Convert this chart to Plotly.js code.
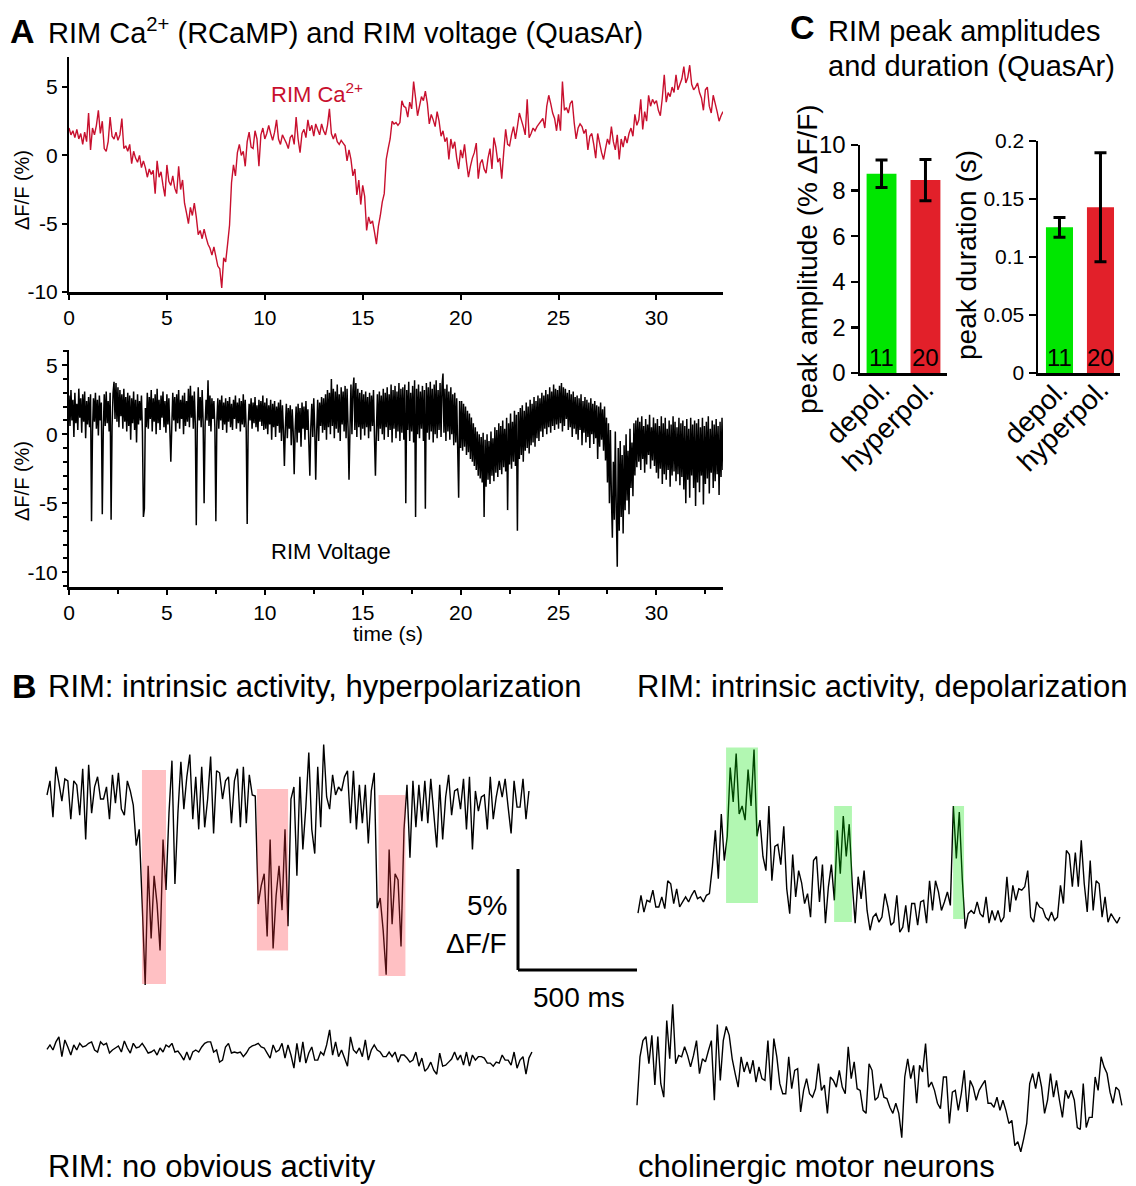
<!DOCTYPE html>
<html><head><meta charset="utf-8">
<script src="https://cdn.plot.ly/plotly-3.0.1.min.js"></script>
<style>html,body{margin:0;padding:0;background:#fff}#chart{width:1136px;height:1186px}</style>
</head><body><div id="chart"></div>
<script>
// ---------------- DATA ----------------
// Panel A: RIM Ca2+ (RCaMP), sampled every caDt seconds
const caDt = 0.1;
const caValues = [
2.0,1.5,1.8,1.3,1.9,1.2,1.6,0.8,1.7,1.0,
3.1,0.4,2.0,1.5,2.2,3.3,1.6,2.5,0.5,0.3,
1.0,2.8,1.4,1.2,1.7,1.1,1.5,2.7,0.5,0.7,
0.3,0.8,-0.6,0.3,-0.2,-0.5,0.0,-0.9,-0.4,-0.9,
-1.6,-1.0,-1.4,-1.1,-2.8,-0.4,-1.6,-1.2,-2.2,-3.0,
-0.7,-1.9,-2.2,-1.5,-2.4,-2.8,-0.8,-2.5,-1.8,-3.5,
-4.2,-5.0,-3.8,-4.4,-3.5,-4.5,-5.8,-5.5,-6.1,-5.4,
-6.0,-6.5,-6.8,-7.3,-6.7,-7.4,-8.1,-8.3,-9.7,-7.5,
-7.8,-6.5,-5.1,-2.0,-0.7,-1.5,0.2,0.8,0.0,0.3,
-0.8,1.0,1.7,0.6,0.5,1.8,1.2,-0.8,1.5,2.0,
1.2,1.6,2.2,1.6,1.1,1.7,2.6,1.2,0.8,1.5,
1.2,0.9,0.5,1.3,1.5,0.8,2.8,1.2,0.2,1.6,
1.9,1.3,2.6,1.8,2.2,1.4,2.3,1.9,1.5,2.3,
1.8,1.5,2.2,3.4,1.6,1.2,1.6,1.0,0.8,1.1,
0.9,0.7,-0.4,0.4,-0.3,-1.5,-1.0,-2.9,-1.8,-3.6,
-2.2,-3.0,-5.5,-4.5,-5.0,-4.8,-5.6,-6.5,-5.2,-4.4,
-3.4,-2.8,-0.3,0.5,1.2,2.5,2.3,2.4,2.2,2.4,
4.0,3.6,3.5,2.8,3.9,3.4,5.4,4.2,2.9,3.6,
4.3,4.0,4.7,3.8,2.3,3.0,2.6,2.1,3.2,2.5,
1.4,1.8,1.0,1.3,-0.3,1.2,0.5,1.0,-0.2,-1.0,
0.4,-0.2,0.8,-0.5,-1.6,-0.8,-0.2,0.2,0.9,-1.7,
-0.6,-0.3,-1.0,-1.3,-0.2,0.5,-1.0,1.3,0.6,-0.5,
-0.2,-1.7,0.2,1.9,0.8,0.7,1.5,2.1,1.2,2.1,
3.1,2.6,2.1,1.5,4.1,1.3,1.6,2.0,1.8,2.1,
2.3,2.5,2.7,2.0,3.6,4.4,3.8,3.1,2.7,1.8,
3.0,1.8,5.4,3.3,3.5,3.1,3.8,4.0,2.4,1.2,
2.0,2.3,2.1,1.6,1.9,0.4,1.4,1.6,0.8,-0.2,
1.6,0.9,0.2,-0.3,0.5,1.2,0.8,2.1,1.0,0.4,
1.5,-0.3,1.2,0.6,1.4,0.9,1.6,2.0,1.4,3.0,
2.2,2.6,4.1,1.9,3.2,2.5,4.4,3.6,4.1,3.8,
4.0,3.3,2.9,4.2,5.9,3.9,4.6,4.3,5.0,4.6,
5.9,4.8,5.2,5.6,6.5,5.3,5.7,6.6,5.2,4.8,
5.0,5.3,4.6,4.2,3.3,4.8,5.0,3.6,3.1,4.4,
3.8,3.2,2.5,2.9,3.2];

// Panel A: RIM voltage (QuasAr), sampled every vDt seconds
const vDt = 0.05;
const voltValues = [
2.8,0.6,3.2,1.0,2.5,-0.2,3.0,0.8,2.2,0.3,3.3,1.2,2.6,0.1,2.9,0.9,3.1,-0.3,2.4,0.7,
2.7,0.5,2.9,-6.3,0.2,2.6,0.9,3.0,0.4,2.5,-0.1,2.8,1.0,2.3,-5.8,0.3,2.9,0.6,3.1,0.8,
2.4,0.2,3.0,-6.2,0.6,3.0,3.8,1.1,3.7,0.9,3.4,0.5,3.2,1.3,2.9,0.4,3.3,0.9,2.7,0.2,
3.0,0.6,2.8,-0.4,2.6,0.8,3.1,0.3,2.5,-0.6,2.9,0.7,2.4,1.0,2.8,0.2,-6.0,-5.4,1.9,0.5,
3.0,0.4,2.7,1.1,3.2,0.2,2.6,0.9,2.9,0.0,3.3,0.8,2.5,0.3,2.8,1.2,3.1,0.5,2.4,0.1,
2.9,0.7,2.6,0.3,-2.0,0.6,3.0,1.0,2.7,0.2,2.9,0.8,3.2,0.4,2.5,1.1,2.8,0.0,3.0,0.6,
2.4,0.9,3.3,0.5,3.5,1.2,2.8,0.4,3.1,0.8,-6.6,0.3,3.4,1.0,2.7,0.5,3.2,0.9,-5.0,0.6,
2.5,1.0,3.9,0.6,2.8,0.2,2.6,1.1,2.4,0.5,-6.3,0.9,2.6,0.4,2.5,1.0,2.8,0.3,2.3,0.7,
2.6,0.1,2.4,0.9,2.7,0.5,2.2,0.3,2.5,1.1,2.8,0.4,2.3,0.8,2.6,0.2,2.4,0.7,2.9,0.5,
2.5,0.3,-6.5,0.6,2.2,1.0,2.6,0.4,2.3,0.8,2.7,0.5,2.1,0.2,2.5,0.9,2.4,0.6,2.8,0.3,
2.3,0.4,2.6,0.0,2.1,0.7,2.5,-0.4,2.2,0.5,2.4,-0.2,2.0,0.6,2.3,0.1,2.5,-0.5,2.1,0.3,
-2.3,0.5,2.2,-0.3,1.9,0.4,2.1,-0.8,1.8,0.2,-2.9,0.3,2.0,-0.6,2.2,0.1,1.9,-0.9,2.3,0.4,
2.0,-0.4,2.4,0.3,1.8,-0.7,-3.0,0.5,2.2,-0.2,2.6,0.4,-3.3,0.2,2.5,-0.5,2.3,0.6,2.7,0.1,
2.6,0.3,2.9,-0.4,3.2,0.5,3.0,0.0,4.0,0.6,3.3,-0.3,3.1,0.4,3.6,0.1,2.9,-0.5,3.4,0.7,
3.1,0.2,3.5,-0.3,3.3,0.6,-3.3,0.4,3.6,0.0,3.2,4.1,0.3,3.7,-0.2,3.3,0.5,3.0,-0.4,3.2,
0.4,2.9,-0.1,3.1,0.5,2.7,-0.3,3.0,0.2,2.8,0.6,3.2,-0.2,-3.0,0.3,2.9,-0.5,3.1,0.4,2.8,
0.0,3.3,-0.4,3.0,0.5,3.4,-0.2,2.9,0.3,3.6,-0.6,3.2,0.4,3.5,-0.3,3.1,0.2,3.7,-0.5,3.3,
0.1,3.4,-0.4,3.6,-5.0,3.2,0.3,3.8,-0.5,3.0,0.2,3.5,-0.6,3.9,-6.0,3.3,0.0,3.6,-0.3,3.1,
0.4,3.5,-0.5,3.2,-5.4,3.7,0.1,3.4,-0.4,3.8,0.2,3.3,-0.6,3.6,0.0,3.9,-0.3,3.2,0.3,3.7,
-0.2,3.5,4.4,0.1,3.3,-0.5,3.6,0.2,3.1,-0.4,3.4,0.0,2.9,-0.8,3.0,-0.6,2.6,-1.0,-4.6,2.4,
-1.0,2.4,-1.2,2.2,-0.9,2.0,-1.5,1.7,-1.3,1.5,-1.8,1.2,-2.0,0.8,-2.3,0.5,-2.6,0.2,-3.0,0.0,
-3.2,-0.2,-3.5,0.1,-6.0,-0.4,-3.8,0.0,-3.3,-0.5,-3.6,0.2,-3.0,-0.3,-3.4,0.5,-2.8,0.3,-3.1,0.8,
-2.6,0.6,-2.9,1.0,-2.4,0.4,-2.7,1.2,-5.5,0.8,-2.2,1.5,-2.5,0.9,-2.0,1.7,-2.3,1.4,-7.0,1.6,
-1.8,1.9,-1.5,2.1,-2.0,1.7,-1.2,2.3,-1.0,2.0,-1.4,2.5,-0.8,2.2,-0.6,2.7,-0.9,2.4,-0.3,2.8,
-0.5,2.6,0.2,3.0,-0.2,2.8,0.4,3.2,0.0,2.9,0.5,3.4,0.1,3.1,0.6,3.6,0.3,3.3,0.7,3.2,
0.4,3.5,0.8,3.7,0.2,3.4,0.6,3.3,1.1,3.0,0.3,3.2,0.5,2.9,-0.2,3.1,0.4,2.7,0.0,2.8,
-0.4,2.6,0.3,2.9,-0.8,2.4,0.1,2.7,-0.6,2.5,-0.2,2.3,-1.0,2.6,0.0,2.2,-0.7,2.4,-0.3,2.1,
-1.8,2.0,-0.9,2.3,-0.4,1.8,-1.2,2.0,-1.9,1.2,-3.5,0.8,-5.0,0.3,-4.5,-7.5,-2.0,-6.2,0.2,-5.5,
-9.6,-1.0,-7.0,-0.5,-6.0,-1.5,-7.2,-0.8,-5.5,0.0,-4.8,-1.2,-5.8,0.4,-3.9,-0.6,-4.5,0.8,-3.0,1.0,
-2.4,1.2,-2.0,0.9,-2.6,1.3,-1.8,0.6,-2.8,1.1,-2.2,0.7,-1.5,1.4,-2.5,0.5,-1.9,1.2,-2.3,0.8,
-2.8,1.1,-3.2,0.6,-2.5,1.3,-3.6,0.8,-2.9,1.2,-3.3,0.4,-2.6,1.0,-3.8,0.7,-3.0,1.3,-2.7,0.9,
-3.4,0.5,-2.9,1.2,-3.7,0.8,-3.1,1.0,-4.0,0.6,-5.0,1.1,-3.3,0.4,-4.6,1.2,-3.0,0.7,-3.9,1.0,
-5.2,0.8,-3.5,1.1,-4.2,0.5,-3.0,1.2,-5.1,0.6,-3.6,0.9,-3.2,1.3,-4.3,0.4,-2.8,1.0,-3.9,0.7,
-3.4,1.1,-2.9,0.6,-4.4,0.9,-3.1,1.2,-2.6];

// Panel A tick labels
const aYTickVals = [-10, -5, 0, 5];
const aYTickText = ['-10', '-5', '0', '5'];

// Panel C: peak amplitudes and durations
const barCategories = ['depol.', 'hyperpol.'];
const ampMeans = [8.74, 8.46];
const ampErrors = [0.6, 0.9];
const durMeans = [0.1256, 0.1428];
const durErrors = [0.0085, 0.047];
const nCells = ['11', '20'];
const durTickVals = [0, 0.05, 0.1, 0.15, 0.2];
const durTickText = ['0', '0.05', '0.1', '0.15', '0.2'];

// Panel B: example traces, sampled every bDt ms, values in % dF/F
const bDt = 12.5;
const hyperTrace = [
0.0,0.7,-1.1,1.4,0.6,-0.3,0.8,0.7,-1.2,0.7,
0.5,-1.0,1.3,-2.2,1.5,-0.9,0.4,0.9,-0.2,-0.2,
0.4,-1.2,1.0,-0.4,1.1,-0.7,-1.0,0.7,0.2,-0.5,
-2.5,-1.7,-5.4,-9.4,-3.5,-7.1,-4.0,-5.4,-7.7,-2.2,
-4.7,-0.9,1.7,-4.4,-0.9,1.65,-0.7,0.9,2.0,-1.2,
0.9,-1.7,1.4,-1.6,-0.2,1.9,-1.9,1.2,1.1,-0.2,
0.7,0.9,-1.4,0.7,1.3,-1.6,1.4,-1.4,1.0,0.0,
-0.05,-5.4,-4.5,-3.9,-7.0,-2.2,-7.6,-5.0,-3.5,-5.7,
-1.7,-6.5,-0.2,0.4,-4.0,0.9,-2.7,-0.6,2.1,-1.7,
-2.9,1.4,-1.6,2.5,-0.1,-0.7,1.0,0.0,0.4,0.2,
0.9,1.2,-1.4,1.2,-1.7,0.5,-1.4,0.5,-2.4,0.2,
1.1,-5.6,-5.1,-6.7,-8.9,-2.7,-6.4,-3.9,-4.2,-7.5,
-1.7,0.5,-3.1,0.7,-1.6,0.5,-1.3,0.7,-1.4,0.8,
-0.9,-2.6,0.5,-2.2,-0.1,1.0,-1.0,0.2,0.3,-0.7,
0.8,-1.7,0.9,-2.7,0.2,-0.8,-0.1,0.0,-1.7,0.9,
-1.2,-0.1,0.7,-0.1,0.8,-0.6,-1.9,0.7,-0.6,-0.6,
0.8,-1.2,0.2];
const quietTrace = [
0.03,0.25,0.0,0.4,0.65,-0.33,0.5,0.15,-0.25,0.25,
0.0,0.33,0.15,0.2,0.33,0.4,0.0,-0.1,0.4,0.25,
0.33,-0.15,0.0,0.1,0.2,-0.1,0.45,0.1,-0.15,0.33,
0.1,0.15,0.33,0.1,-0.15,-0.1,0.0,-0.25,0.1,-0.1,
0.25,0.15,0.33,-0.1,-0.05,-0.25,-0.5,-0.1,-0.5,-0.1,
0.0,-0.1,0.15,0.33,0.4,0.4,-0.1,0.0,-0.6,-0.5,
0.15,0.33,-0.15,-0.1,-0.15,-0.1,-0.33,-0.15,0.1,0.2,
0.25,0.33,0.15,0.1,-0.15,-0.4,0.25,-0.1,0.0,0.33,
-0.4,0.25,-0.25,-0.9,0.33,-0.6,0.4,-0.65,-0.15,0.15,
-0.5,-0.5,-0.1,-0.25,0.25,1.0,-0.25,0.4,-0.33,0.0,
-0.4,-0.8,0.65,0.0,-0.15,0.1,-0.33,0.5,-0.5,0.0,
0.25,0.0,-0.1,-0.33,-0.33,-0.1,-0.33,-0.1,-0.6,-0.25,
-0.25,-0.4,-0.6,-0.5,-0.1,-0.8,-0.4,-1.05,-0.9,-0.6,
-1.0,-1.2,-0.15,-0.8,-0.75,-0.6,-0.45,-0.1,-0.5,-0.25,
-0.75,-0.1,-0.8,-0.25,-0.5,-0.33,-0.33,-0.4,-0.65,-0.65,
-0.8,-0.6,-0.65,-0.25,-0.5,-0.5,-0.75,-0.1,-0.9,-0.5,
-0.33,-1.2,-0.4,-0.1];
const depolTrace = [
-0.3,0.58,-0.25,0.33,0.25,0.83,0.0,0.0,0.5,-0.08,
1.3,1.15,0.17,0.9,0.0,0.25,0.5,0.25,0.58,0.83,
0.41,0.5,0.25,0.58,0.66,2.0,3.8,1.4,4.6,2.3,
3.5,6.9,5.2,7.6,4.6,5.0,4.3,6.8,5.0,7.8,
3.5,4.3,2.5,1.8,5.0,1.3,3.0,3.1,2.1,4.0,
0.9,-0.33,2.6,0.5,1.8,1.2,0.17,0.66,-0.5,2.3,
2.5,0.25,2.1,-0.8,1.0,2.1,0.33,3.8,1.65,4.5,
2.5,4.1,1.2,-0.8,1.5,0.4,1.8,-0.17,-1.15,-0.5,
-0.33,-0.75,-0.5,0.66,0.0,-0.9,-0.75,0.58,-1.25,-1.0,
0.08,-1.25,0.17,0.17,-0.9,0.25,0.33,-0.8,1.3,-0.17,
1.3,0.75,-0.17,0.25,0.75,0.08,5.0,2.4,4.7,1.4,
-1.07,-0.33,-0.17,-0.33,0.25,-0.33,-0.5,0.5,-0.8,-0.17,
-0.66,-0.17,-0.75,-0.5,1.5,-0.25,1.07,0.33,0.9,0.83,
1.0,1.8,-0.5,-0.75,0.25,0.0,-0.08,-0.5,-0.66,-0.25,
-0.66,-0.5,1.07,0.17,2.8,2.6,1.0,2.7,1.0,3.3,
1.15,-0.25,2.3,-0.17,1.3,1.15,-0.5,0.5,-0.75,-0.33,
-0.58,-0.8,-0.5];
const cholTrace = [
-1.4,1.0,1.8,2.0,0.66,2.06,-0.4,2.0,-0.33,-1.0,
2.8,0.9,3.6,0.66,1.07,1.0,1.5,1.07,0.5,1.07,
1.8,0.17,0.9,0.75,1.3,1.8,-1.15,2.6,-0.17,1.8,
2.5,2.06,0.9,0.17,-0.5,1.0,0.25,0.75,0.17,0.83,
-0.25,0.5,-0.08,-0.17,1.8,-0.66,1.9,1.0,-0.33,-0.83,
-0.83,1.0,-0.58,0.33,0.41,-1.73,-0.66,-0.08,-0.83,-1.0,
-0.58,0.66,-0.66,-0.4,-1.8,0.0,-0.17,-0.5,0.33,-0.5,
-0.83,1.5,-0.08,0.75,-0.58,-0.66,-1.65,-1.8,0.66,0.33,
-1.15,-1.0,-0.33,-1.0,-1.07,-1.5,-1.8,-1.3,-1.8,-3.0,
0.0,0.9,-0.08,0.58,-1.3,0.58,0.25,1.65,-0.5,-0.25,
-0.66,-1.3,-1.57,0.0,0.0,-2.3,-0.75,-0.66,-1.65,-0.83,
0.33,-1.73,-0.17,-0.5,-1.15,-0.66,-0.4,-0.17,-1.3,-1.3,
-1.5,-1.0,-1.65,-1.15,-1.65,-2.3,-2.15,-3.4,-3.2,-3.7,
-3.05,-2.3,-0.33,0.17,-0.58,0.25,-0.5,-1.8,-1.15,0.17,
-1.0,-0.17,-1.15,-2.0,-0.66,-1.07,-0.66,-1.15,-2.5,-2.6,
-0.33,-2.5,-2.0,-2.0,0.0,-0.66,1.0,0.5,0.17,-0.75,
-1.3,-0.5,-0.66,-1.4];

// highlighted event windows (ms, % dF/F)
const hyperWinStart = [399, 882, 1393];
const hyperWinEnd = [500, 1013, 1506];
const hyperWinTop = [1.24, 0.3, 0.0];
const hyperWinBottom = [-9.36, -7.7, -8.96];
const depolWinStart = [370, 824, 1324];
const depolWinEnd = [504, 899, 1370];
const depolWinTop = [7.9, 5.0, 5.0];
const depolWinBottom = [0.2, -0.74, -0.6];

// scale bar values
const scaleBarPct = 5;
const scaleBarMs = 500;

// ---------------- DRAWING ----------------
const W = 1136, H = 1186;
const fx = p => p / W;
const fy = p => 1 - p / H;
const FONT = 'Liberation Sans, Arial, Helvetica, sans-serif';
const times = (arr, dt) => arr.map((_, i) => +(i * dt).toFixed(4));

const PX_PER_MS = 0.238, PX_PER_PCT = 20.2;
function bX(pxL, pxR, originPx) {
  return {domain: [fx(pxL), fx(pxR)], range: [(pxL - originPx) / PX_PER_MS, (pxR - originPx) / PX_PER_MS], visible: false};
}
function bY(pyT, pyB, zeroPy) {
  return {domain: [fy(pyB), fy(pyT)], range: [(zeroPy - pyB) / PX_PER_PCT, (zeroPy - pyT) / PX_PER_PCT], visible: false};
}

const RED = '#c8102e';
const traces = [
  {x: times(caValues, caDt), y: caValues, xaxis: 'x', yaxis: 'y', type: 'scatter', mode: 'lines',
   line: {color: RED, width: 1.4, simplify: false}},
  {x: times(voltValues, vDt), y: voltValues, xaxis: 'x2', yaxis: 'y2', type: 'scatter', mode: 'lines',
   line: {color: '#000', width: 1.5, simplify: false}},
  {x: barCategories, y: ampMeans, xaxis: 'x3', yaxis: 'y3', type: 'bar', width: 0.68,
   marker: {color: ['#00e600', '#e2202a']},
   error_y: {type: 'data', array: ampErrors, color: '#000', thickness: 3, width: 6}},
  {x: barCategories, y: durMeans, xaxis: 'x4', yaxis: 'y4', type: 'bar', width: 0.66,
   marker: {color: ['#00e600', '#e2202a']},
   error_y: {type: 'data', array: durErrors, color: '#000', thickness: 3, width: 6}},
  {x: times(hyperTrace, bDt), y: hyperTrace, xaxis: 'x5', yaxis: 'y5', type: 'scatter', mode: 'lines',
   line: {color: '#000', width: 1.4, simplify: false}},
  {x: times(quietTrace, bDt), y: quietTrace, xaxis: 'x6', yaxis: 'y6', type: 'scatter', mode: 'lines',
   line: {color: '#000', width: 1.4, simplify: false}},
  {x: times(depolTrace, bDt), y: depolTrace, xaxis: 'x7', yaxis: 'y7', type: 'scatter', mode: 'lines',
   line: {color: '#000', width: 1.4, simplify: false}},
  {x: times(cholTrace, bDt), y: cholTrace, xaxis: 'x8', yaxis: 'y8', type: 'scatter', mode: 'lines',
   line: {color: '#000', width: 1.4, simplify: false}}
];

const tickFontA = {family: FONT, size: 21, color: '#000'};
const axA = {showgrid: false, zeroline: false, showline: true, linecolor: '#000', ticks: 'outside',
  tickcolor: '#000', tickwidth: 2, ticklen: 5, tickfont: tickFontA};

const shapes = [];
hyperWinStart.forEach((s, i) => shapes.push({type: 'rect', xref: 'x5', yref: 'y5', x0: s, x1: hyperWinEnd[i],
  y0: hyperWinBottom[i], y1: hyperWinTop[i], fillcolor: 'rgba(255,45,55,0.3)', line: {width: 0}, layer: 'above'}));
depolWinStart.forEach((s, i) => shapes.push({type: 'rect', xref: 'x7', yref: 'y7', x0: s, x1: depolWinEnd[i],
  y0: depolWinBottom[i], y1: depolWinTop[i], fillcolor: 'rgba(0,228,0,0.3)', line: {width: 0}, layer: 'above'}));
// scale bar, drawn in the hyperpolarization trace's units
const sbT = (518 - 47) / PX_PER_MS, sbV = (795 - 970) / PX_PER_PCT;
shapes.push({type: 'line', xref: 'x5', yref: 'y5', x0: sbT, x1: sbT, y0: sbV, y1: sbV + scaleBarPct, line: {color: '#000', width: 3}});
shapes.push({type: 'line', xref: 'x5', yref: 'y5', x0: sbT, x1: sbT + scaleBarMs, y0: sbV, y1: sbV, line: {color: '#000', width: 3}});

function pAnn(text, px, py, size, opts) {
  return Object.assign({text: text, xref: 'paper', yref: 'paper', x: fx(px), y: fy(py), showarrow: false,
    xanchor: 'left', yanchor: 'middle', font: {family: FONT, size: size, color: '#000'}}, opts || {});
}

const annotations = [
  pAnn('<b>A</b>', 8, 31, 34),
  pAnn('RIM Ca<sup>2+</sup> (RCaMP) and RIM voltage (QuasAr)', 46, 31, 29),
  pAnn('<b>C</b>', 788, 27, 34),
  pAnn('RIM peak amplitudes', 826, 31, 29),
  pAnn('and duration (QuasAr)', 826, 66, 29),
  pAnn('<b>B</b>', 10, 686, 34),
  pAnn('RIM: intrinsic activity, hyperpolarization', 46, 686, 31),
  pAnn('RIM: intrinsic activity, depolarization', 635, 686, 31),
  pAnn('RIM: no obvious activity', 46, 1186, 31, {yanchor: 'bottom'}),
  pAnn('cholinergic motor neurons', 636, 1186, 31, {yanchor: 'bottom'}),
  pAnn('5%', 509, 905, 28, {xanchor: 'right'}),
  pAnn('ΔF/F', 509, 943, 28, {xanchor: 'right'}),
  pAnn('500 ms', 579, 997, 28, {xanchor: 'center'}),
  // axis titles
  pAnn('ΔF/F (%)', 22, 190, 20, {xanchor: 'center', textangle: -90}),
  pAnn('ΔF/F (%)', 22, 481, 20, {xanchor: 'center', textangle: -90}),
  pAnn('time (s)', 388, 633, 21, {xanchor: 'center'}),
  pAnn('peak amplitude (% ΔF/F)', 807, 259, 28, {xanchor: 'center', textangle: -90}),
  pAnn('peak duration (s)', 966, 255, 28, {xanchor: 'center', textangle: -90}),
  // in-plot labels
  {text: 'RIM Ca<sup>2+</sup>', xref: 'x', yref: 'y', x: 10.2, y: 4.6, showarrow: false, xanchor: 'left',
   font: {family: FONT, size: 22, color: RED}},
  {text: 'RIM Voltage', xref: 'x2', yref: 'y2', x: 10.2, y: -8.5, showarrow: false, xanchor: 'left',
   font: {family: FONT, size: 22, color: '#000'}}
];
barCategories.forEach((c, i) => {
  annotations.push({text: nCells[i], xref: 'x3', yref: 'y3', x: c, y: 0, yanchor: 'bottom', showarrow: false,
    font: {family: FONT, size: 24, color: '#000'}, yshift: 0});
  annotations.push({text: nCells[i], xref: 'x4', yref: 'y4', x: c, y: 0, yanchor: 'bottom', showarrow: false,
    font: {family: FONT, size: 24, color: '#000'}, yshift: 0});
});

const axC = {showgrid: false, zeroline: false, showline: true, linecolor: '#000', tickcolor: '#000',
  tickfont: {family: FONT, size: 24, color: '#000'}};

const layout = {
  width: W, height: H, margin: {l: 0, r: 0, t: 0, b: 0}, showlegend: false,
  paper_bgcolor: '#fff', plot_bgcolor: 'rgba(0,0,0,0)', font: {family: FONT, color: '#000'},
  xaxis: Object.assign({}, axA, {domain: [fx(69), fx(723)], range: [0, 33.4], dtick: 5, tick0: 0, linewidth: 3, anchor: 'y'}),
  yaxis: Object.assign({}, axA, {domain: [fy(292), fy(57)], range: [-10, 7.2], tickvals: aYTickVals, ticktext: aYTickText,
    linewidth: 2, anchor: 'x'}),
  xaxis2: Object.assign({}, axA, {domain: [fx(69), fx(723)], range: [0, 33.4], dtick: 5, tick0: 0, linewidth: 3, anchor: 'y2',
    minor: {dtick: 2.5, tick0: 0, ticks: 'outside', ticklen: 4, tickwidth: 2, tickcolor: '#000'}}),
  yaxis2: Object.assign({}, axA, {domain: [fy(587), fy(350)], range: [-11.07, 6.1], tickvals: aYTickVals, ticktext: aYTickText,
    linewidth: 2, anchor: 'x2',
    minor: {dtick: 1, tick0: 0, ticks: 'outside', ticklen: 4, tickwidth: 2, tickcolor: '#000'}}),
  xaxis3: Object.assign({}, axC, {domain: [fx(860), fx(947)], range: [-0.49, 1.49], type: 'category', linewidth: 3,
    ticks: '', tickangle: -45, ticklabelstandoff: -14, tickfont: {family: FONT, size: 28, color: '#000'}, anchor: 'y3'}),
  yaxis3: Object.assign({}, axC, {domain: [fy(373), fy(145)], range: [0, 10], dtick: 2, tick0: 0, linewidth: 2.5,
    ticks: 'outside', ticklen: 7, tickwidth: 2.5, anchor: 'x3'}),
  xaxis4: Object.assign({}, axC, {domain: [fx(1038), fx(1120)], range: [-0.524, 1.476], type: 'category', linewidth: 3,
    ticks: '', tickangle: -45, ticklabelstandoff: -14, tickfont: {family: FONT, size: 28, color: '#000'}, anchor: 'y4'}),
  yaxis4: Object.assign({}, axC, {domain: [fy(373), fy(141)], range: [0, 0.2], tickvals: durTickVals,
    ticktext: durTickText, linewidth: 2.5, ticks: 'outside', ticklen: 7, tickwidth: 2.5, anchor: 'x4',
    tickfont: {family: FONT, size: 21, color: '#000'}}),
  xaxis5: Object.assign(bX(40, 640, 47), {anchor: 'y5'}),
  yaxis5: Object.assign(bY(735, 1000, 795), {anchor: 'x5'}),
  xaxis6: Object.assign(bX(40, 640, 47), {anchor: 'y6'}),
  yaxis6: Object.assign(bY(1020, 1090, 1050), {anchor: 'x6'}),
  xaxis7: Object.assign(bX(630, 1130, 638), {anchor: 'y7'}),
  yaxis7: Object.assign(bY(735, 940, 907), {anchor: 'x7'}),
  xaxis8: Object.assign(bX(630, 1130, 637), {anchor: 'y8'}),
  yaxis8: Object.assign(bY(995, 1160, 1077), {anchor: 'x8'}),
  shapes: shapes,
  annotations: annotations
};

Plotly.newPlot('chart', traces, layout, {staticPlot: true, displayModeBar: false});
</script>
</body></html>
